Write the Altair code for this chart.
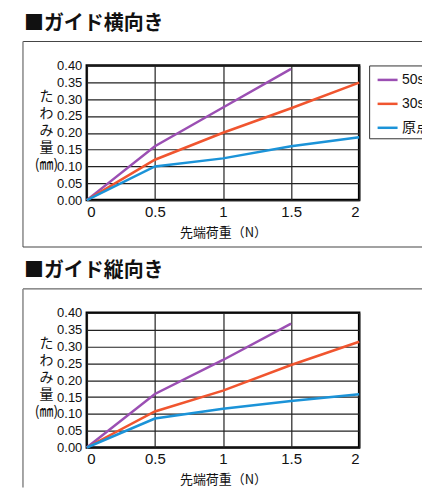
import altair as alt
import pandas as pd

loads = [0, 0.5, 1, 1.5, 2]
series_names = ["50st", "30st", "原点"]
colors = ["#9b4fb3", "#f0552f", "#1b93d8"]

# ガイド横向き
h_50 = [0, 0.16, 0.275, 0.39]
h_30 = [0, 0.12, 0.20, 0.273, 0.349]
h_0 = [0, 0.10, 0.124, 0.16, 0.187]

# ガイド縦向き
v_50 = [0, 0.159, 0.26, 0.368]
v_30 = [0, 0.107, 0.169, 0.245, 0.314]
v_0 = [0, 0.086, 0.115, 0.138, 0.158]

y_ticks = [0, 0.05, 0.10, 0.15, 0.20, 0.25, 0.30, 0.35, 0.40]
x_ticks = [0, 0.5, 1, 1.5, 2]

JP = "Noto Sans CJK JP"
NARROW = "Liberation Sans Narrow, Liberation Sans"


def make_df(s50, s30, s0):
    rows = []
    for name, vals in zip(series_names, [s50, s30, s0]):
        for x, v in zip(loads, vals):
            rows.append({"load": x, "val": v, "series": name})
    return pd.DataFrame(rows)


def panel(title, s50, s30, s0, with_bottom):
    df = make_df(s50, s30, s0)
    one = pd.DataFrame({"a": [1]})
    edge = dict(stroke="#444", strokeWidth=1)
    top = alt.Chart(one).mark_rule(**edge).encode(
        x=alt.value(-64), x2=alt.value(360), y=alt.value(-24))
    left = alt.Chart(one).mark_rule(stroke="#888", strokeWidth=1.5).encode(
        x=alt.value(-64), y=alt.value(-24), y2=alt.value(182 if with_bottom else 175))
    layers = [top, left]
    if with_bottom:
        bottom = alt.Chart(one).mark_rule(**edge).encode(
            x=alt.value(-64), x2=alt.value(360), y=alt.value(182))
        layers.append(bottom)
    ttl = alt.Chart(pd.DataFrame({"t": [title]})).mark_text(
        align="left", baseline="top", fontSize=20, fontWeight="bold", font=JP, color="#111"
    ).encode(x=alt.value(-63), y=alt.value(-52), text="t:N")
    lines = alt.Chart(df).mark_line(strokeWidth=2.5).encode(
        x=alt.X("load:Q", scale=alt.Scale(domain=[0, 2], nice=False),
                axis=alt.Axis(values=x_ticks, format="~g", title="先端荷重（N）",
                              labelFont="Liberation Sans", labelFontSize=15, labelPadding=4,
                              titleFont=JP, titleFontSize=13, titleFontWeight="normal",
                              titlePadding=7)),
        y=alt.Y("val:Q", scale=alt.Scale(domain=[0, 0.4], nice=False),
                axis=alt.Axis(values=y_ticks, format=".2f",
                              title=["た", "わ", "み", "量", "(㎜)"],
                              labelFont=NARROW, labelFontSize=13, labelPadding=5,
                              titleFont=JP, titleFontSize=14, titleFontWeight="normal",
                              titleAngle=0, titleAlign="center", titleBaseline="top",
                              titleX=-41, titleY=24, titleLineHeight=17)),
        color=alt.Color("series:N", scale=alt.Scale(domain=series_names, range=colors),
                        legend=alt.Legend(title=None, orient="none", legendX=283, legendY=0,
                                          symbolType="stroke", symbolSize=400,
                                          symbolStrokeWidth=2.5, symbolOffset=4,
                                          labelFontSize=14,
                                          labelFont="Liberation Sans, " + JP,
                                          labelColor="#111", labelOffset=3,
                                          rowPadding=5, padding=3,
                                          strokeColor="#333", fillColor="white")),
        order="load:Q",
    )
    return alt.layer(*layers, ttl, lines).properties(width=273, height=135)


chart = alt.vconcat(
    panel("■ガイド横向き", h_50, h_30, h_0, True),
    panel("■ガイド縦向き", v_50, v_30, v_0, False),
    spacing=10,
).properties(
    padding={"left": 13, "top": 3, "right": -26, "bottom": 0}
).configure_view(
    stroke="black", strokeWidth=2.5
).configure_axis(
    grid=True, gridColor="#222", gridWidth=1.2, gridOpacity=1,
    domain=False, ticks=False, labelColor="#111", titleColor="#111"
)

chart.save("out.html", embed_options={"renderer": "svg", "actions": False})
